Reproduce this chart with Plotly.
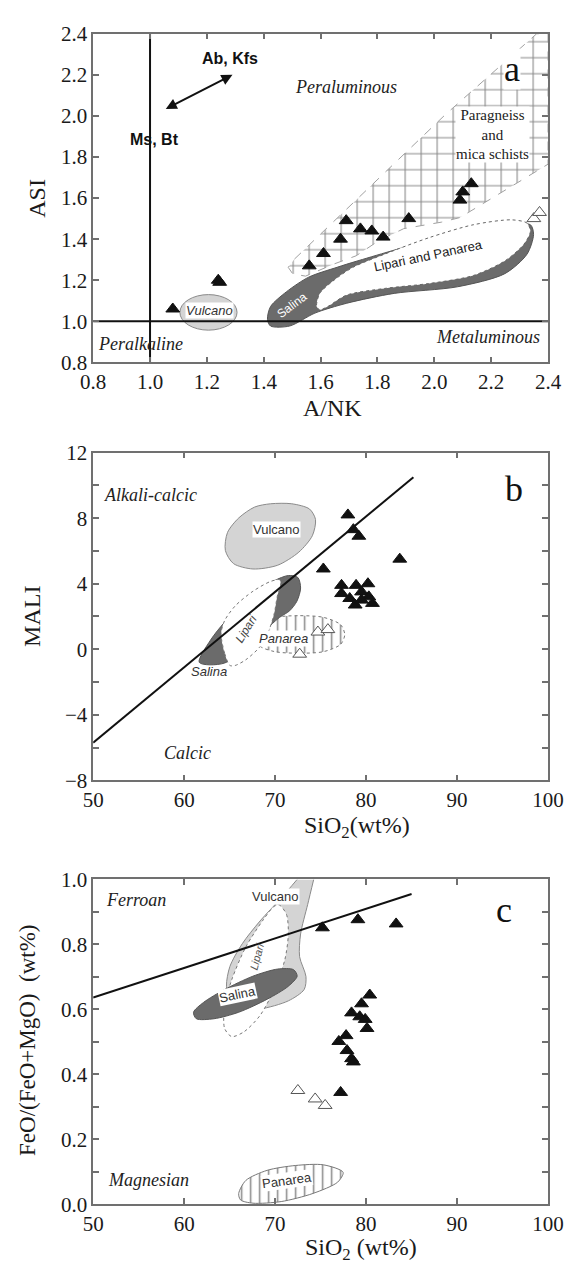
import plotly.graph_objects as go

# target picture is 584x1276; the page body adds an 8 px margin at left/top,
# so the figure is 8 px smaller and every target pixel position is shifted.
OFF = 8
W, H = 584 - OFF, 1276 - OFF

# ---------------- data ----------------
# Panel a : A/NK vs ASI
a_fill_x = [1.08, 1.24, 1.245, 1.56, 1.61, 1.67, 1.69, 1.74, 1.78, 1.82, 1.91, 2.09, 2.10, 2.13]
a_fill_y = [1.06, 1.20, 1.19, 1.27, 1.33, 1.40, 1.49, 1.45, 1.44, 1.41, 1.50, 1.59, 1.63, 1.67]
a_open_x = [2.35, 2.37]
a_open_y = [1.50, 1.53]

# Panel b : SiO2 vs MALI
b_fill_x = [78.0, 78.6, 79.2, 75.3, 83.7, 77.3, 78.9, 80.2, 77.3, 79.5, 78.2, 78.8, 80.3, 80.7, 79.5]
b_fill_y = [8.2, 7.3, 6.9, 4.9, 5.5, 3.9, 3.9, 4.0, 3.4, 3.5, 3.1, 2.7, 3.2, 2.8, 3.0]
b_open_x = [72.7, 74.7, 75.8]
b_open_y = [-0.3, 1.05, 1.2]

# Panel c : SiO2 vs FeO/(FeO+MgO)
c_fill_x = [75.2, 79.1, 83.3, 80.4, 79.5, 78.4, 79.3, 79.9, 80.1, 77.8, 77.0, 77.9, 78.4, 78.6, 77.2]
c_fill_y = [0.851, 0.876, 0.863, 0.644, 0.617, 0.589, 0.577, 0.569, 0.541, 0.519, 0.501, 0.473, 0.448, 0.438, 0.344]
c_open_x = [72.5, 74.4, 75.5]
c_open_y = [0.350, 0.324, 0.304]

# boundary lines
b_line_x = [50, 85.2]
b_line_y = [-5.7, 10.5]
c_line_x = [50, 85.0]
c_line_y = [0.636, 0.955]

# ---------------- field outlines ----------------
a_para = [(1.508, 1.303), (2.037, 2.004), (2.36, 2.40), (2.40, 2.40), (2.40, 1.765), (2.09, 1.505),
          (2.026, 1.483), (1.892, 1.451), (1.803, 1.391), (1.725, 1.319), (1.647, 1.279),
          (1.547, 1.22), (1.502, 1.231), (1.486, 1.263), (1.508, 1.303)]
a_salina = [(1.413, 1.009), (1.424, 1.072), (1.480, 1.144), (1.558, 1.215), (1.658, 1.263), (1.725, 1.292),
            (2.0, 1.40), (2.25, 1.47), (2.338, 1.470), (2.349, 1.423), (2.326, 1.327), (2.248, 1.232),
            (2.081, 1.168), (1.859, 1.136), (1.692, 1.088), (1.580, 1.040), (1.491, 0.977),
            (1.424, 0.977), (1.413, 1.009)]
a_lipari = [(1.586, 1.072), (1.597, 1.136), (1.647, 1.200), (1.714, 1.263), (1.825, 1.327), (1.981, 1.407),
            (2.137, 1.470), (2.271, 1.494), (2.326, 1.478), (2.338, 1.438), (2.315, 1.375), (2.249, 1.295),
            (2.137, 1.223), (1.981, 1.184), (1.825, 1.160), (1.692, 1.128), (1.625, 1.072), (1.597, 1.056),
            (1.586, 1.072)]
a_vulcano = (1.105, 1.306, 0.957, 1.13)

b_vulcano = [(69.50, 8.88), (71.83, 8.88), (73.78, 8.56), (74.44, 7.92), (74.09, 6.93), (72.61, 5.93),
             (70.28, 5.13), (67.56, 4.90), (65.42, 5.23), (64.53, 6.03), (64.76, 7.12), (66.01, 8.02),
             (67.75, 8.68), (69.50, 8.88)]
b_salina = [(61.66, -0.80), (62.9, 0.56), (64.45, 1.65), (66.4, 2.65), (68.3, 3.54), (69.9, 4.18),
            (71.45, 4.5), (72.5, 4.38), (72.8, 3.74), (72.4, 2.94), (71.6, 2.35), (70.5, 1.95),
            (64.45, -0.84), (61.66, -0.80)]
b_lipari = [(65.03, -0.99), (64.45, -0.24), (64.06, 0.96), (64.45, 1.75), (65.62, 2.65), (67.56, 3.54),
            (69.5, 4.14), (70.5, 4.24), (70.6, 3.84), (70.28, 3.34), (69.89, 2.15), (69.31, 1.15),
            (68.34, 0.16), (66.78, -0.64), (65.6, -0.99), (65.03, -0.99)]
b_panarea = [(67.6, 0.9), (68.3, 1.6), (70.0, 1.95), (72.6, 2.05), (75.3, 1.95), (77.2, 1.5), (77.65, 0.9),
             (77.2, 0.3), (75.3, -0.15), (72.6, -0.24), (70.0, -0.15), (68.3, 0.2), (67.6, 0.9)]

c_vulcano = [(72.42, 1.0), (70.67, 0.943), (68.34, 0.872), (66.39, 0.802), (65.03, 0.732), (64.65, 0.671),
             (65.23, 0.601), (68.34, 0.601), (71.45, 0.626), (73.19, 0.661), (73.39, 0.701), (72.69, 0.762),
             (72.80, 0.832), (73.58, 0.923), (74.24, 1.0)]
c_lipari = [(70.47, 0.921), (71.25, 0.892), (71.45, 0.832), (71.06, 0.752), (69.89, 0.661), (68.34, 0.581),
            (66.59, 0.531), (65.23, 0.516), (64.45, 0.541), (64.45, 0.611), (65.23, 0.691), (66.78, 0.792),
            (68.73, 0.877), (69.89, 0.917), (70.47, 0.921)]
c_salina = [(61.03, 0.591), (62.12, 0.621), (64.45, 0.661), (67.56, 0.702), (70.28, 0.724), (72.03, 0.722),
            (72.42, 0.702), (71.45, 0.671), (69.12, 0.631), (66.0, 0.591), (63.29, 0.571), (61.34, 0.571),
            (61.03, 0.591)]
c_panarea = [(66.0, 0.033), (66.78, 0.073), (69.11, 0.104), (72.22, 0.119), (75.33, 0.121), (77.47, 0.098),
             (76.88, 0.068), (74.16, 0.033), (70.67, 0.008), (67.56, 0.003), (66.2, 0.013), (66.0, 0.033)]


# ---------------- layout geometry (target pixels -> paper) ----------------
def PX(px):
    return (px - OFF) / W


def PY(py):
    return 1 - (py - OFF) / H


XD = [PX(84), PX(563)]
YD = {1: [PY(357), PY(22)], 2: [PY(783), PY(449)], 3: [PY(1215), PY(884)]}

DARK = '#6b6b6b'
LIGHT = '#d4d4d4'
FRAME = '#707070'

fig = go.Figure()


def axn(ax, letter):
    return letter if ax == 1 else f'{letter}{ax}'


def field(pts, ax, fill, line_color, dash='solid', width=1, pattern=None, spline=True):
    xs = [p[0] for p in pts]
    ys = [p[1] for p in pts]
    kw = dict(x=xs, y=ys, mode='lines', fill='toself', fillcolor=fill,
              line=dict(color=line_color, width=width, dash=dash, shape='spline' if spline else 'linear',
                        smoothing=0.8),
              hoverinfo='skip', showlegend=False, xaxis=axn(ax, 'x'), yaxis=axn(ax, 'y'))
    if pattern:
        kw['fillpattern'] = pattern
    fig.add_trace(go.Scatter(**kw))


def pts_trace(x, y, ax, filled):
    fig.add_trace(go.Scatter(
        x=x, y=y, mode='markers', hoverinfo='skip', showlegend=False,
        marker=dict(symbol='triangle-up', size=12,
                    color='#111111' if filled else 'white',
                    line=dict(color='#111111' if filled else '#555555', width=1)),
        xaxis=axn(ax, 'x'), yaxis=axn(ax, 'y')))


def line_trace(x, y, ax, width=2):
    fig.add_trace(go.Scatter(x=x, y=y, mode='lines', line=dict(color='#111111', width=width),
                             hoverinfo='skip', showlegend=False, xaxis=axn(ax, 'x'), yaxis=axn(ax, 'y')))


# ---- panel a ----
field(a_para, 1, 'white', '#a0a0a0', dash='dash', spline=False,
      pattern=dict(shape='+', size=16, solidity=0.13, fgcolor='#111111', bgcolor='white'))
field(a_salina, 1, DARK, '#555555')
field(a_lipari, 1, 'white', '#666666', dash='dot')
line_trace([1.0, 1.0], [0.8, 2.4], 1)
line_trace([0.8, 2.4], [1.0, 1.0], 1)
pts_trace(a_fill_x, a_fill_y, 1, True)
pts_trace(a_open_x, a_open_y, 1, False)

# ---- panel b ----
field(b_vulcano, 2, LIGHT, '#8a8a8a')
field(b_panarea, 2, 'white', '#777777', dash='dot',
      pattern=dict(shape='|', size=9, solidity=0.18, fgcolor='#222222', bgcolor='white'))
field(b_salina, 2, DARK, '#555555')
field(b_lipari, 2, 'white', '#777777', dash='dot')
line_trace(b_line_x, b_line_y, 2)
pts_trace(b_fill_x, b_fill_y, 2, True)
pts_trace(b_open_x, b_open_y, 2, False)

# ---- panel c ----
field(c_vulcano, 3, LIGHT, '#8a8a8a')
field(c_lipari, 3, 'white', '#777777', dash='dot')
field(c_salina, 3, DARK, '#555555')
field(c_panarea, 3, 'white', '#777777', dash='solid',
      pattern=dict(shape='|', size=9, solidity=0.18, fgcolor='#222222', bgcolor='white'))
line_trace(c_line_x, c_line_y, 3)
pts_trace(c_fill_x, c_fill_y, 3, True)
pts_trace(c_open_x, c_open_y, 3, False)

# ---------------- axes ----------------
tickfont = dict(family='Liberation Serif', size=21, color='#1a1a1a')
common = dict(showline=True, linecolor=FRAME, linewidth=1.5, mirror='ticks', ticks='inside',
              ticklen=6, tickwidth=1.5, tickcolor=FRAME, showgrid=False, zeroline=False,
              tickfont=tickfont, fixedrange=True, ticklabeloverflow='allow')

fig.update_layout(
    width=W, height=H, margin=dict(l=0, r=0, t=0, b=0),
    paper_bgcolor='white', plot_bgcolor='white', showlegend=False,
    xaxis=dict(domain=XD, range=[0.8, 2.4], dtick=0.2, tick0=0.8, tickformat='.1f', anchor='y', **common),
    yaxis=dict(domain=YD[1], range=[0.8, 2.4], dtick=0.2, tick0=0.8, tickformat='.1f', anchor='x', **common),
    xaxis2=dict(domain=XD, range=[50, 100], dtick=10, anchor='y2', **common),
    yaxis2=dict(domain=YD[2], range=[-8, 12], dtick=4, tick0=0, anchor='x2',
                minor=dict(dtick=2, ticks='inside', ticklen=6, tickwidth=1.5, tickcolor=FRAME), **common),
    xaxis3=dict(domain=XD, range=[50, 100], dtick=10, anchor='y3', **common),
    yaxis3=dict(domain=YD[3], range=[0, 1.0], dtick=0.2, tickformat='.1f', anchor='x3',
                minor=dict(dtick=0.1, ticks='inside', ticklen=6, tickwidth=1.5, tickcolor=FRAME), **common),
)

# Vulcano ellipse panel a
fig.add_shape(type='circle', xref='x', yref='y', x0=a_vulcano[0], x1=a_vulcano[1],
              y0=a_vulcano[2], y1=a_vulcano[3], fillcolor=LIGHT, line=dict(color='#8a8a8a', width=1),
              layer='below')

# ---------------- annotations ----------------
serif = 'Liberation Serif'
sans = 'Liberation Sans'
ann = []


def txt(x, y, text, ax=1, size=18, family=serif, italic=True, color='#222222', bg=None, angle=0,
        bold=False):
    t = text
    if italic:
        t = f'<i>{t}</i>'
    if bold:
        t = f'<b>{t}</b>'
    d = dict(x=x, y=y, text=t, showarrow=False, xref=axn(ax, 'x'), yref=axn(ax, 'y'),
             font=dict(family=family, size=size, color=color), textangle=angle)
    if bg:
        d.update(bgcolor=bg, borderpad=0)
    ann.append(d)


# panel a
txt(1.28, 2.28, 'Ab, Kfs', size=16, family=sans, italic=False, bold=True, color='#111111')
txt(1.016, 1.886, 'Ms, Bt', size=16, family=sans, italic=False, bold=True, color='#111111')
txt(1.69, 2.14, 'Peraluminous')
txt(0.968, 0.89, 'Peralkaline')
txt(2.187, 0.925, 'Metaluminous')
txt(2.273, 2.23, 'a', size=36, italic=False, color='#111111', bg='white')
txt(2.206, 1.91, 'Paragneiss<br>and<br>mica schists', size=15, italic=False, bg='white')
txt(1.21, 1.054, 'Vulcano', size=13, family=sans, color='#333333', bg='white')
txt(1.50, 1.08, 'Salina', size=12, family=sans, italic=False, color='white', angle=-37)
txt(1.981, 1.319, 'Lipari and Panarea', size=13, family=sans, italic=False, color='#222222', angle=-12)
ann.append(dict(x=1.29, y=2.20, ax=1.05, ay=2.03, xref='x', yref='y', axref='x', ayref='y',
                text='', showarrow=True, arrowhead=2, arrowside='end+start', arrowsize=1.1,
                arrowwidth=2, arrowcolor='#111111'))

# panel b
txt(56.3, 9.41, 'Alkali-calcic', ax=2)
txt(60.4, -6.31, 'Calcic', ax=2)
txt(96.3, 9.8, 'b', ax=2, size=36, italic=False, color='#111111')
txt(70.1, 7.32, 'Vulcano', ax=2, size=13, family=sans, italic=False, color='#333333', bg='white')
txt(62.7, -1.33, 'Salina', ax=2, size=13, family=sans, color='#333333')
txt(66.8, 1.25, 'Lipari', ax=2, size=12, family=sans, color='#444444', angle=-58)
txt(70.9, 0.66, 'Panarea', ax=2, size=13, family=sans, color='#333333', bg='white')

# panel c
txt(54.74, 0.938, 'Ferroan', ax=3)
txt(56.1, 0.073, 'Magnesian', ax=3)
txt(95.15, 0.905, 'c', ax=3, size=36, italic=False, color='#111111')
txt(70.09, 0.948, 'Vulcano', ax=3, size=13, family=sans, italic=False, color='#333333', bg='white')
txt(65.81, 0.646, 'Salina', ax=3, size=13, family=sans, italic=False, color='#333333', bg='white', angle=-12)
txt(67.95, 0.762, 'Lipari', ax=3, size=11, family=sans, color='#555555', angle=-75)
txt(71.25, 0.073, 'Panarea', ax=3, size=13, family=sans, italic=False, color='#333333', bg='white', angle=-8)


# axis titles (target pixel positions)
def ptitle(px, py, text, angle=0, size=24):
    ann.append(dict(x=PX(px), y=PY(py), xref='paper', yref='paper', text=text, showarrow=False,
                    textangle=angle, font=dict(family=serif, size=size, color='#1a1a1a'),
                    xanchor='center', yanchor='middle'))


ptitle(336, 403, 'A/NK')
ptitle(24, 190, 'ASI', angle=-90)
ptitle(362, 831, 'SiO<sub>2</sub>(wt%)')
ptitle(20, 616, 'MALI', angle=-90)
ptitle(366, 1261, 'SiO<sub>2</sub> (wt%)')
ptitle(15, 1048, 'FeO/(FeO+MgO)  (wt%)', angle=-90, size=23)

fig.update_layout(annotations=ann)
fig.write_html('out.html')
